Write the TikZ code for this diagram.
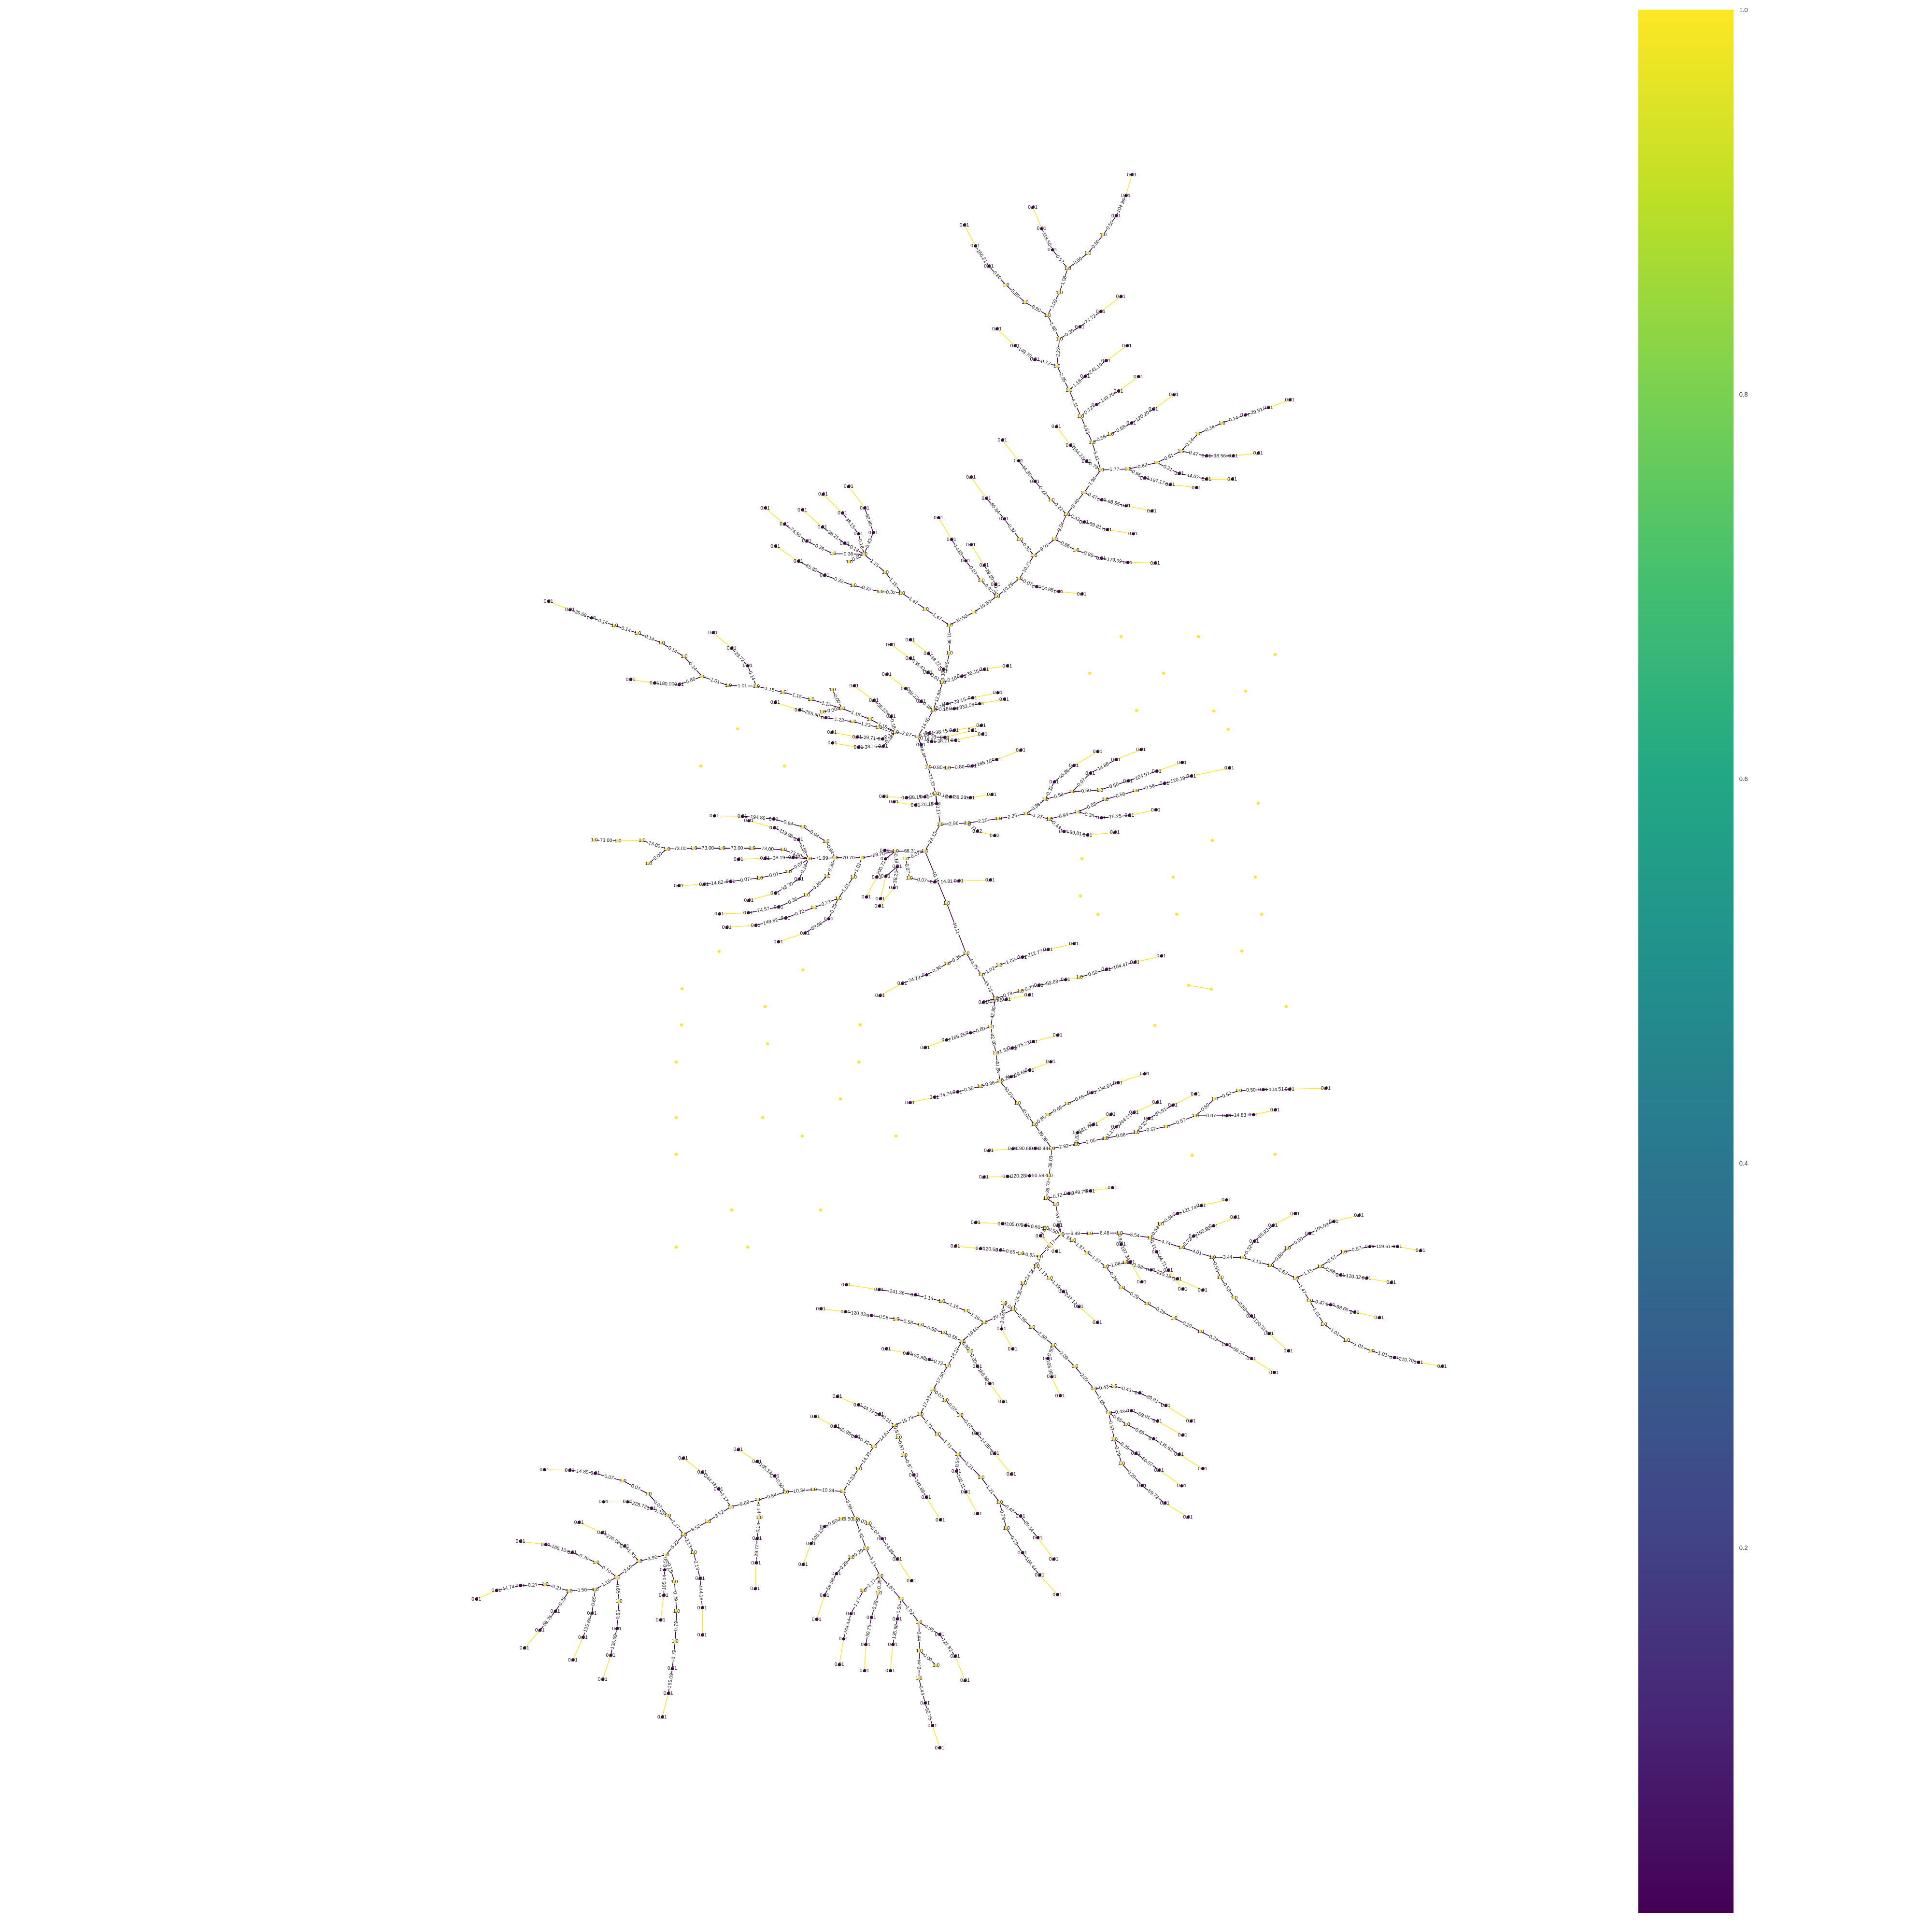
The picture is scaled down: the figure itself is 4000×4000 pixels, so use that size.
\documentclass[tikz,border=0pt]{standalone}
\usepackage{fontspec}
\setmainfont{Liberation Sans}
\definecolor{vlow}{HTML}{440154}
\definecolor{vhigh}{HTML}{FDE725}
\definecolor{vira}{HTML}{482475}
\definecolor{virb}{HTML}{414487}
\definecolor{virc}{HTML}{355F8D}
\definecolor{vird}{HTML}{2A788E}
\definecolor{vire}{HTML}{21918C}
\definecolor{virf}{HTML}{22A884}
\definecolor{virg}{HTML}{44BF70}
\definecolor{virh}{HTML}{7AD151}
\definecolor{viri}{HTML}{BDDF26}
\pgfdeclareverticalshading{viridisbar}{100bp}{color(0bp)=(vlow); color(25bp)=(vlow);
  color(30bp)=(vira); color(35bp)=(virb); color(40bp)=(virc); color(45bp)=(vird);
  color(50bp)=(vire); color(55bp)=(virf); color(60bp)=(virg); color(65bp)=(virh);
  color(70bp)=(viri); color(75bp)=(vhigh); color(100bp)=(vhigh)}
\pgfdeclarelayer{edges}
\pgfsetlayers{edges,main}
\tikzset{
  nlab/.style={font=\fontsize{2.9}{3}\selectfont, text=black!90, inner sep=0pt},
  lownode/.style={circle, fill=vlow, inner sep=0pt, minimum size=0.065cm, label={[nlab]center:0.01}},
  midnode/.style={circle, fill=vlow, inner sep=0pt, minimum size=0.065cm, label={[nlab]center:0.02}},
  highnode/.style={circle, fill=vhigh, inner sep=0pt, minimum size=0.065cm, label={[nlab]center:1.0}},
  freenode/.style={circle, fill=vhigh, inner sep=0pt, minimum size=0.065cm},
  wedge/.style={draw=vlow, line width=0.4pt},
  leafedge/.style={draw=vhigh, line width=0.4pt},
  wlab/.style={nlab, sloped, fill=white, inner sep=0.25pt},
  ticklab/.style={font=\fontsize{3.7}{4}\selectfont, text=black!80, inner sep=0pt, anchor=west}
}
\begin{document}
\begin{tikzpicture}[x=0.01cm, y=-0.01cm]
\useasboundingbox (0,0) rectangle (4000,4000);

% top of the tree
\begin{scope}[shift={(1950,330)}, xscale=0.3333, yscale=0.3333]
  \foreach \n/\x/\y in {a1/1180/95, a2/1143/225, a3/1083/350, a7/687/562, a8/620/430, a9/565/298,
    a14/292/663, a15/208/538, a16/140/408, a18/857/1040, a19/987/945, a20/1112/852, a22/578/1243,
    a23/455/1158, a24/342/1053, a26/890/1348, a27/1020/1250, a28/1150/1158}
    \node[lownode] (\n) at (\x,\y) {};
  \foreach \n/\x/\y in {a4/1003/468, a5/907/583, a6/782/678, a10/730/828, a11/657/968, a12/517/888,
    a13/398/780, a17/730/1115, a21/715/1283, a25/790/1433}
    \node[highnode] (\n) at (\x,\y) {};
\end{scope}

% upper right branches
\begin{scope}[shift={(2050,750)}, xscale=0.4464, yscale=0.3507]
  \foreach \n/\x/\y in {b2/493/250, b3/595/170, b4/688/85, b7/655/360, b8/757/277, b9/852/192,
    b11/447/585, b12/373/490, b13/307/380, b19/1183/312, b20/1290/268, b21/1390/222, b22/1003/553,
    b23/1127/553, b24/1243/537, b25/877/657, b26/1003/690, b27/1123/690, b28/717/683, b29/835/722,
    b30/957/740, b32/517/812, b33/630/848, b34/750/878, b36/435/943, b37/543/988, b38/663/1013,
    b40/208/703, b41/132/582, b42/57/460, b45/515/1157, b46/638/1182, b47/765/1185, b50/65/925,
    b52/215/1325, b53/318/1353, b54/425/1368}
    \node[lownode] (\n) at (\x,\y) {};
  \foreach \n/\x/\y in {b1/420/318, b5/473/473, b6/558/425, b10/513/636, b14/640/630, b15/773/593,
    b16/885/525, b17/965/422, b18/1075/358, b31/435/770, b35/355/897, b39/283/813, b43/300/1045,
    b44/398/1110, b48/203/1140, b49/137/1045, b51/135/1278, b55/30/1383}
    \node[highnode] (\n) at (\x,\y) {};
\end{scope}

% upper left cluster and trunk
\begin{scope}[shift={(1500,900)}, xscale=0.6378, yscale=0.5102]
  \foreach \n/\x/\y in {c3/880/607, c5/783/512, c6/737/425, c7/695/337, c8/843/530, c9/800/447,
    c10/850/258, c11/800/172, c16/325/570, c17/240/513, c18/165/452, c21/483/397, c22/455/297,
    c23/403/210, c24/435/402, c25/383/318, c26/320/242, c29/267/432, c30/195/363, c31/132/297,
    c32/390/440, c33/318/375, c34/253/305, c38/603/832, c39/662/888, c40/710/952, c41/660/965,
    c42/603/907, c43/540/852, c44/770/980, c45/843/952, c46/918/938, c47/527/972, c48/588/1030,
    c49/638/1082, c50/723/1092, c51/805/1068, c52/887/1047, c53/745/1112, c54/828/1092,
    c55/908/1073, c58/665/1212, c59/745/1200, c60/833/1180, c61/715/1228, c62/805/1200,
    c63/672/1245, c64/750/1240, c65/838/1215, c66/638/1258, c70/517/1468, c71/590/1473,
    c72/650/1470, c73/733/1470, c74/797/1473, c75/868/1460, c76/550/1490, c77/620/1503,
    c78/688/1497, c80/1352/1278, c81/1310/1405, c82/1403/1365, c83/1485/1330, c85/1428/1415,
    c86/1515/1385, c87/1400/1522}
    \node[lownode] (\n) at (\x,\y) {};
  \foreach \n/\x/\y in {c1/730/773, c2/810/720, c4/833/592, c12/652/707, c13/575/642, c14/505/637,
    c15/418/612, c19/522/558, c20/453/485, c27/405/515, c28/352/483, c35/730/886, c36/708/1005,
    c37/678/1117, c56/628/1225, c57/555/1207, c84/1335/1445}
    \node[highnode] (\n) at (\x,\y) {};
\end{scope}

% far left branch
\begin{scope}[shift={(1100,1200)}, xscale=0.5102, yscale=0.3333]
  \foreach \n/\x/\y in {d3/1195/858, d4/1088/810, d5/990/763, d15/878/535, d16/813/427, d17/738/330,
    d22/245/238, d23/157/187, d24/70/135, d25/600/652, d26/500/643, d27/403/620, d28/1460/850,
    d29/1390/750, d30/1310/660, d31/1425/990, d32/1322/978, d33/1220/948, d34/1428/1035,
    d35/1328/1042, d36/1222/1015}
    \node[lownode] (\n) at (\x,\y) {};
  \foreach \n/\x/\y in {d1/1410/918, d2/1305/883, d6/1375/868, d7/1260/800, d8/1222/685,
    d9/1182/822, d10/1135/745, d11/1022/700, d12/913/662, d13/800/658, d14/693/602, d18/620/478,
    d19/528/393, d20/432/333, d21/338/285}
    \node[highnode] (\n) at (\x,\y) {};
\end{scope}

% trunk middle and right branches
\begin{scope}[shift={(1850,1250)}, xscale=0.3333, yscale=0.3333]
  \foreach \n/\x/\y in {e3/487/1008, e4/640/968, e5/790/910, e14/998/1107, e15/1120/1005,
    e16/1268/918, e18/1222/1052, e19/1382/968, e32/1290/1330, e33/1465/1315, e35/1058/1415,
    e36/1205/1437, e37/1375/1420}
    \node[lownode] (\n) at (\x,\y) {};
  \foreach \n/\x/\y in {e9/520/1413, e10/628/1440}
    \node[midnode] (\n) at (\x,\y) {};
  \foreach \n/\x/\y in {e1/215/1015, e2/335/1020, e6/262/1180, e7/290/1370, e8/458/1362,
    e11/652/1335, e12/825/1305, e13/942/1215, e17/1110/1167, e21/1282/1157, e25/968/1337,
    e26/1145/1293, e27/1315/1215}
    \node[highnode] (\n) at (\x,\y) {};
\end{scope}

% left fan
\begin{scope}[shift={(1200,1650)}, xscale=0.4464, yscale=0.3333]
  \foreach \n/\x/\y in {f5/1015/265, f6/903/192, f7/785/148, f8/990/375, f9/860/382, f10/737/387,
    f22/700/525, f23/577/542, f24/460/552, f25/1018/510, f26/908/598, f27/785/642, f30/923/683,
    f31/782/720, f32/648/727, f36/955/752, f37/817/797, f38/683/810, f39/1155/757, f40/1045/845,
    f41/922/900, f44/900/137, f45/755/120, f46/625/118, f47/1415/332, f48/1418/385, f49/1378/497,
    f50/1330/622, f51/1473/433, f52/1458/565, f53/1390/677, f56/1420/493, f57/1395/632}
    \node[lownode] (\n) at (\x,\y) {};
  \foreach \n/\x/\y in {f1/1063/385, f2/1185/378, f3/1310/378, f4/1465/337, f11/945/328,
    f12/800/318, f13/660/318, f14/530/318, f15/405/323, f16/290/270, f17/178/273, f18/68/268,
    f19/320/413, f20/968/465, f21/835/503, f28/1148/493, f29/1053/608, f33/1270/498,
    f34/1200/630, f35/1087/687, f42/1143/277, f43/1037/187, f54/1513/385, f55/1530/505}
    \node[highnode] (\n) at (\x,\y) {};
\end{scope}

% trunk below the fan
\foreach \n/\x/\y in {J/1915/1762, K/1960/1870}
  \node[highnode] (\n) at (\x,\y) {};
\foreach \n/\x/\y in {k1/1935/1826, k2/1985/1824, k3/2050/1822, g4/1868/2036, g5/1822/2061,
  g38/1884/2283, g63/2615/2256, g64/2670/2255, g65/2745/2253, g66/2540/2310, g67/2595/2308,
  g68/2640/2298, e38/2545/1590, h13/2020/2531, h83/2030/2585, h84/1978/2580, j5/1895/2681,
  j6/1820/2670, j7/1752/2660}
  \node[lownode] (\n) at (\x,\y) {};
\foreach \n/\x/\y in {g61/2515/2275, g62/2565/2258, j4/1950/2694}
  \node[highnode] (\n) at (\x,\y) {};

\begin{scope}[shift={(1900,1950)}, xscale=0.3827, yscale=0.3333]
  \foreach \n/\x/\y in {g3/48/205, g8/565/95, g9/705/48, g10/845/12, g13/655/270, g19/800/235,
    g16/1020/172, g17/1175/127, g18/1318/88, g20/355/375, g21/478/358, g22/603/330, g24/285/565,
    g25/155/610, g26/40/657, g28/510/660, g29/625/620, g30/757/580, g32/505/838, g33/605/797,
    g34/720/745, g36/215/932, g37/90/965, g43/942/937, g44/1083/875, g45/1228/820, g48/865/1185,
    g49/950/1135, g50/1045/1072, g52/1073/1150, g53/1170/1060, g54/1295/997, g56/1250/1097,
    g57/1380/1015, g58/1503/945, g71/635/1283, g72/515/1285, g73/385/1297, g74/605/1453,
    g75/485/1457, g76/358/1462}
    \node[lownode] (\n) at (\x,\y) {};
  \foreach \n/\x/\y in {g1/262/72, g2/160/135, g6/345/205, g7/440/145, g11/420/352, g12/555/305,
    g15/875/220, g23/395/528, g27/423/690, g31/445/865, g35/338/898, g39/540/1003, g40/632/1135,
    g41/705/1073, g42/810/1005, g46/725/1283, g47/858/1257, g51/1015/1220, g55/1183/1183,
    g59/1345/1148, g60/1503/1080, g70/712/1453}
    \node[highnode] (\n) at (\x,\y) {};
\end{scope}

% lower right
\begin{scope}[shift={(2050,2450)}, xscale=0.6378, yscale=0.4464]
  \foreach \n/\x/\y in {h3/255/47, h4/325/35, h5/397/20, h7/220/195, h8/163/243, h9/215/315,
    h10/40/187, h11/115/195, h26/1312/808, h27/1390/830, h28/1467/848, h29/1105/563, h30/1183/597,
    h31/1263/623, h34/1232/293, h35/1322/293, h36/1397/312, h37/1137/425, h38/1222/440,
    h39/1302/460, h41/1037/232, h42/1115/177, h43/1197/148, h44/857/268, h45/918/195, h46/990/140,
    h49/847/615, h50/905/697, h51/968/777, h52/660/245, h53/725/197, h54/795/157, h56/608/140,
    h57/685/103, h58/767/77, h59/540/318, h60/578/403, h61/425/283, h62/455/365, h63/522/402,
    h64/607/443, h65/690/495, h66/625/490, h67/492/457, h75/768/748, h76/848/813, h77/922/877,
    h81/33/310, h88/237/502, h89/288/572, h90/348/645, h97/485/972, h98/570/1030, h99/652/1103,
    h101/458/1055, h102/543/1103, h103/625/1168, h105/530/1185, h106/613/1257, h107/690/1323,
    h109/473/1252, h110/548/1330, h111/622/1403, h113/493/1402, h114/567/1483, h115/642/1548,
    h116/187/812, h117/200/897, h118/227/985, h119/37/675, h120/73/768}
    \node[lownode] (\n) at (\x,\y) {};
  \foreach \n/\x/\y in {h1/183/70, h2/213/97, h6/230/235, h12/180/208, h14/323/232, h15/420/230,
    h16/520/252, h17/622/298, h18/722/342, h19/820/345, h20/910/380, h21/992/440, h22/1037/545,
    h23/1083/653, h24/1157/728, h25/1237/777, h32/1072/385, h33/1147/318, h40/965/300,
    h47/747/437, h48/792/530, h55/553/187, h68/315/322, h69/375/385, h70/440/367, h71/427/483,
    h72/510/558, h73/597/625, h74/683/687, h78/268/265, h79/160/340, h80/150/383, h82/100/325,
    h85/108/463, h86/75/585, h87/193/440, h91/45/555, h92/135/668, h93/205/750, h94/275/850,
    h95/337/953, h96/402/940, h100/385/1065, h104/443/1117, h108/403/1187, h112/427/1300}
    \node[highnode] (\n) at (\x,\y) {};
\end{scope}

% lower middle
\begin{scope}[shift={(1600,2700)}, xscale=0.5102, yscale=0.6378]
  \foreach \n/\x/\y in {j11/400/37, j12/295/25, j13/195/15, j15/830/202, j16/880/258, j17/935/317,
    j19/635/180, j20/548/160, j21/460/145, j25/828/420, j26/900/485, j27/968/552, j33/1005/688,
    j34/1075/758, j35/1140/828, j37/1013/807, j38/1083/880, j39/1155/943, j40/745/542,
    j41/783/610, j42/830/680, j44/432/358, j45/347/327, j46/262/300, j49/572/555, j50/623/627,
    j51/680/700, j53/337/430, j54/253/397, j55/172/365, j62/210/722, j63/155/777, j64/123/845,
    j66/443/762, j67/505/828, j68/563/898, j71/258/875, j72/210/945, j73/178/1023, j76/317/1005,
    j77/287/1087, j78/270/1170, j80/400/1017, j81/377/1105, j82/372/1190, j84/505/1022,
    j85/487/1105, j86/477/1190, j88/677/1072, j89/740/1143, j90/780/1222, j94/618/1295,
    j95/648/1368, j96/677/1440}
    \node[lownode] (\n) at (\x,\y) {};
  \foreach \n/\x/\y in {j1/858/60, j2/785/22, j3/768/120, j8/693/93, j9/600/68, j10/500/48,
    j14/800/152, j18/710/200, j22/650/278, j23/700/312, j24/760/360, j28/598/358, j29/668/422,
    j30/752/488, j31/845/562, j32/920/643, j36/948/728, j43/495/393, j47/510/432, j48/533/490,
    j52/410/462, j56/348/535, j57/285/608, j58/165/602, j59/52/610, j60/335/697, j61/278/697,
    j65/388/712, j69/378/793, j70/318/822, j74/435/882, j75/367/930, j79/430/937, j83/520/957,
    j87/593/1033, j91/595/1125, j92/663/1172, j93/593/1215}
    \node[highnode] (\n) at (\x,\y) {};
\end{scope}

% lower left
\begin{scope}[shift={(950,2950)}, xscale=0.6378, yscale=0.4464]
  \foreach \n/\x/\y in {i11/200/745, i12/122/768, i13/57/808, i14/313/865, i15/263/953, i16/213/1035,
    i17/432/873, i18/403/985, i19/370/1090, i21/513/945, i22/493/1068, i23/467/1180, i25/368/592,
    i26/282/555, i27/200/540, i28/538/562, i29/465/500, i30/390/452, i34/693/1130, i35/680/1245,
    i36/660/1355, i37/668/673, i38/665/790, i39/655/905, i41/783/712, i42/790/848, i43/790/975,
    i45/625/387, i46/548/357, i47/470/357, i50/443/225, i51/360/210, i52/278/208, i53/843/297,
    i54/790/220, i55/728/155, i57/968/527, i58/965/640, i59/962/760, i60/1025/237, i61/968/170,
    i62/907/115}
    \node[lownode] (\n) at (\x,\y) {};
  \foreach \n/\x/\y in {i1/972/348, i2/883/380, i3/808/448, i4/730/508, i5/672/603, i6/585/632,
    i7/513/705, i8/443/763, i9/358/770, i10/280/740, i20/520/818, i24/445/638, i31/700/727,
    i32/707/865, i33/702/1003, i40/762/592, i44/678/420, i48/615/320, i49/533/260, i56/975/430}
    \node[highnode] (\n) at (\x,\y) {};
\end{scope}

% loose nodes
\foreach \x/\y [count=\i] in {2321/1318, 2481/1318, 2640/1355, 2256/1394, 2409/1394, 2579/1431,
  2353/1471, 2513/1472, 2543/1510, 2605/1663, 2240/1778, 2510/1740, 2429/1816, 2599/1816,
  2237/1855, 2273/1893, 2436/1893, 2612/1893, 2571/1969, 2663/2084, 2391/2123, 2640/2390,
  2468/2392, 1527/1509, 1451/1586, 1624/1586, 1489/1970, 1662/2008, 1412/2047, 1584/2084,
  1411/2122, 1589/2161, 1781/2122, 1400/2199, 1778/2199, 1740/2275, 1579/2314, 1400/2314,
  1661/2352, 1855/2352, 1400/2390, 1515/2505, 1699/2505, 1400/2582, 1548/2582}
  \node[freenode] (loose\i) at (\x,\y) {};
\node[freenode] (pairA) at (2461,2040) {};
\node[freenode] (pairB) at (2508,2048) {};

\begin{pgfonlayer}{edges}
  \foreach \p/\q/\w in {a2/a3/104.99, a3/a4/0.50, a4/a5/0.50, a5/a6/0.50, a6/a7/0.57, a7/a8/119.50,
    a6/a10/1.08, a10/a11/1.08, a11/a12/0.80, a12/a13/0.80, a13/a14/0.80, a14/a15/166.21,
    a11/a17/1.88, a17/a18/0.36, a18/a19/74.72, a17/a21/2.23, a21/a22/0.72, a22/a23/149.70,
    a21/a25/2.95, a25/a26/1.16, a26/a27/241.10, a25/b1/4.11, b1/b2/0.72, b2/b3/149.70, b1/b5/4.83,
    b5/b6/0.58, b6/b7/0.58, b7/b8/120.20, b5/b10/5.41, b10/b11/0.79, b11/b12/164.23, b10/b14/1.77,
    b14/b15/0.82, b15/b16/0.61, b16/b17/0.14, b17/b18/0.14, b18/b19/0.14, b19/b20/29.81,
    b16/b22/0.47, b22/b23/98.56, b15/b25/0.21, b25/b26/44.67, b14/b28/0.95, b28/b29/197.17,
    b10/b31/7.94, b31/b32/0.47, b32/b33/98.55, b31/b35/8.40, b35/b36/0.43, b36/b37/89.81,
    b35/b39/0.22, b39/b40/0.22, b40/b41/44.85, b35/b43/9.04, b43/b44/0.86, b44/b45/0.86,
    b45/b46/179.99, b43/b48/9.91, b48/b49/0.32, b49/b50/0.32, b50/c10/65.84, b48/b51/10.21,
    b51/b52/0.07, b52/b53/14.85, b51/b55/10.29, b55/c2/10.50, c2/c1/10.50, b55/c3/0.14,
    c3/c8/29.80, b55/c4/0.07, c4/c5/0.07, c5/c6/14.83,
    c1/c12/1.47, c12/c13/1.47, c13/c14/0.32, c14/c15/0.32, c15/c16/0.32, c16/c17/65.83,
    c13/c19/1.15, c19/c20/1.15, c20/c21/0.43, c21/c22/69.80, c20/c24/0.18, c24/c25/38.15,
    c20/c27/0.00, c20/c28/0.36, c28/c29/0.36, c29/c30/74.56, c20/c32/0.18, c32/c33/38.21,
    c1/c35/11.96, c35/c36/11.96, c36/c40/0.18, c40/c39/38.22, c36/c41/0.61, c41/c42/135.41,
    c36/c44/0.18, c44/c45/38.15, c36/c37/12.96, c37/c49/0.18, c49/c48/38.22, c37/c50/0.18,
    c50/c51/38.15, c37/c53/0.18, c53/c54/333.56, c37/c56/14.93, c56/c57/2.87, c56/c58/0.18,
    c58/c59/38.15, c56/c61/0.18, c56/c63/0.18, c63/c64/38.21, c56/e1/48.44, c71/c72/38.15,
    c72/e6/0.18, e6/c73/0.18, c73/c74/38.21, c77/c78/120.18,
    c57/d1/1.23, d1/d2/1.23, d2/d3/1.23, d3/d4/255.90, c57/d6/1.15, d6/d7/1.15, d7/d10/1.15,
    d10/d11/1.15, d11/d12/1.15, d12/d13/1.01, d13/d14/1.01, d7/d8/0.00, d7/d9/0.00, d12/d15/0.14,
    d15/d16/29.72, d14/d18/0.14, d18/d19/0.14, d19/d20/0.14, d20/d21/0.14, d21/d22/0.14,
    d22/d23/29.68, d14/d25/0.86, d25/d26/180.00, c57/d28/0.18, d28/d29/38.23, c57/d31/0.14,
    d31/d32/29.71, c57/d34/0.18, d34/d35/38.15,
    e1/e2/0.80, e2/e3/0.80, e3/e4/166.18, e1/e6/19.23, e6/e7/50.17, e7/e8/2.96, e8/e9/0.71,
    e8/e11/2.25, e11/e12/2.25, e12/e13/0.88, e13/e14/0.32, e14/e15/65.86, e13/e17/0.58,
    e17/e18/0.07, e18/e19/14.86, e17/e21/0.50, e21/c81/0.50, c81/c82/104.97, e12/e25/1.37,
    e25/e26/0.94, e26/e27/0.58, e27/c84/0.58, c84/c85/0.58, c85/c86/120.19, e26/e32/0.36,
    e32/e33/75.25, e25/e35/0.43, e35/e36/89.81,
    e7/J/23.13, f1/f2/71.99, f2/f3/70.70, f3/f4/69.70, f4/J/68.31, f1/f11/73.00, f11/f12/73.00,
    f12/f13/73.00, f13/f14/73.00, f14/f15/73.00, f15/f16/73.00, f17/f18/73.00, f15/f19/0.00,
    f1/f5/0.58, f5/f6/119.98, f8/f9/38.19, f1/f20/0.07, f20/f21/0.07, f21/f22/0.07, f22/f23/14.82,
    f1/f25/0.18, f25/f26/38.20, f2/f28/0.36, f28/f29/0.36, f29/f30/0.36, f30/f31/74.57,
    f3/f33/1.01, f33/f34/1.01, f34/f35/0.72, f35/f36/0.72, f36/f37/149.62, f34/f39/0.29,
    f39/f40/59.98, f2/f42/0.94, f42/f43/0.94, f43/f44/0.94, f44/f45/194.86, f48/f49/200.71,
    f4/f51/0.18, f51/f52/38.20, J/f54/0.07, f54/f55/0.07, f55/k1/0.07, k1/k2/14.81, J/K/40.11,
    K/g1/40.11,
    g1/g2/0.36, g2/g3/0.36, g3/g4/74.73, g1/g6/44.75, g6/g7/1.02, g7/g8/1.02, g8/g9/212.77,
    g6/g11/43.73, g11/g12/0.79, g12/g13/0.29, g13/g19/59.68, g15/g16/0.50, g16/g17/104.47,
    g20/g21/129.81, g11/g23/42.80, g23/g24/0.80, g24/g25/166.25, g23/g27/42.00, g27/g28/1.32,
    g28/g29/275.73, g27/g31/40.68, g31/g32/0.29, g32/g33/59.68, g31/g35/0.36, g35/g36/0.36,
    g36/g37/74.74, g31/g39/40.03, g39/g40/40.03, g40/g41/0.65, g41/g42/0.65, g42/g43/0.65,
    g43/g44/134.64, g40/g46/39.39, g46/g47/2.92, g47/g48/0.87, g48/g49/181.78, g47/g51/2.05,
    g51/g52/1.17, g52/g53/244.22, g51/g55/0.88, g55/g56/0.32, g56/g57/65.91, g55/g59/0.57,
    g59/g60/0.57, g60/g61/0.50, g61/g62/0.50, g62/g63/0.50, g63/g64/104.51, g60/g66/0.07,
    g66/g67/14.83, g46/g71/0.44, g71/g72/190.66, g46/g70/36.03, g70/g74/0.58, g74/g75/120.28,
    g70/h1/35.72, h1/h3/0.72, h3/h4/149.79, h2/h6/34.71, h6/h12/0.50, h12/h11/0.50,
    h11/h10/105.07, h12/h8/44.89, h6/h14/6.48, h14/h15/6.48, h15/h16/5.54, h16/h17/4.74,
    h17/h18/4.01, h18/h19/3.44, h19/h20/3.13, h20/h21/2.62, h21/h22/1.47, h22/h23/1.01,
    h23/h24/1.01, h24/h25/1.01, h25/h26/1.01, h26/h27/210.70, h22/h29/0.47, h29/h30/98.65,
    h21/h32/1.15, h32/h33/0.57, h33/h34/0.57, h34/h35/119.61, h32/h37/0.58, h37/h38/120.32,
    h20/h40/0.50, h40/h41/0.50, h41/h42/105.09, h19/h44/0.32, h44/h45/65.93, h18/h47/0.58,
    h47/h48/0.58, h48/h49/0.58, h49/h50/120.31, h17/h52/0.72, h52/h53/150.95, h16/h55/0.58,
    h55/h56/0.58, h56/h57/121.74, h16/h59/0.21, h59/h60/44.71, h15/h61/0.98, h61/h62/197.34,
    h6/h78/1.37, h78/h68/1.37, h68/h69/1.37, h69/h70/1.08, h70/h63/1.08, h63/h64/225.18,
    h69/h71/0.29, h71/h72/0.29, h72/h73/0.29, h73/h74/0.29, h74/h75/0.29, h75/h76/59.54,
    h6/h79/26.17, h79/h82/0.65, h82/h81/0.65, h81/h83/120.53, h79/h80/25.15, h80/h85/24.36,
    h85/h86/24.36, h80/h87/1.19, h87/h88/1.19, h88/h89/247.12, h86/h91/1.01, h91/h119/210.70,
    h86/h92/2.59, h92/h93/2.59, h93/h94/2.09, h94/h95/2.09, h95/h96/0.43, h96/h97/0.43,
    h97/h98/89.91, h95/h100/1.66, h100/h101/0.43, h101/h102/89.91, h100/h104/0.65,
    h104/h105/0.65, h105/h106/135.62, h100/h108/0.57, h108/h109/0.29, h109/h110/60.07,
    h108/h112/0.29, h112/h113/0.29, h113/h114/59.72, h93/h116/0.50, h116/h117/105.09,
    h86/j1/20.76,
    j1/j2/1.16, j2/j4/1.16, j4/j5/1.16, j5/j6/241.36, j1/j3/19.60, j3/j8/0.58, j8/j9/0.58,
    j9/j10/0.58, j10/j11/0.58, j11/j12/120.33, j3/j14/0.80, j14/j15/0.80, j15/j16/166.39,
    j3/j18/18.22, j18/j19/0.72, j19/j20/150.98, j18/j22/17.50, j22/j23/0.07, j23/j24/0.07,
    j24/j25/0.07, j25/j26/14.85, j22/j28/17.43, j28/j29/1.71, j29/j30/1.71, j30/j31/1.21,
    j31/j32/1.21, j32/j33/0.43, j33/j34/89.54, j32/j36/0.79, j36/j37/0.79, j37/j38/164.44,
    j30/j40/0.50, j40/j41/105.11, j28/j43/15.73, j43/j44/0.21, j44/j45/44.72, j43/j47/0.87,
    j47/j48/0.87, j48/j49/0.87, j49/j50/181.89, j43/j52/14.64, j52/j53/0.32, j53/j54/65.95,
    j52/j56/14.33, j56/j57/14.33, j57/j58/10.34, j58/j59/10.34, j57/j60/3.99, j60/j61/0.50,
    j61/j62/0.50, j62/j63/105.13, j60/j65/0.07, j65/j66/0.07, j66/j67/14.86, j60/j69/3.42,
    j69/j70/0.29, j70/j71/0.29, j71/j72/59.58, j69/j74/3.13, j74/j75/1.17, j75/j76/1.17,
    j76/j77/244.44, j74/j79/0.29, j79/j80/0.29, j80/j81/59.75, j74/j83/1.67, j83/j84/0.65,
    j84/j85/135.68, j83/j87/1.02, j87/j88/0.58, j88/j89/121.82, j87/j91/0.44, j91/j92/0.00,
    j91/j93/0.44, j93/j94/0.44, j94/j95/80.75,
    j59/i1/9.84, i1/i2/9.69, i2/i3/8.52, i3/i4/8.52, i4/i5/5.22, i5/i6/3.92, i6/i7/2.60,
    i7/i8/1.15, i8/i9/0.50, i9/i10/0.21, i10/i11/0.21, i11/i12/44.74, i9/i14/0.29,
    i14/i15/59.76, i8/i17/0.65, i17/i18/135.69, i7/i20/0.65, i20/i21/0.65, i21/i22/135.69,
    i7/i24/0.79, i24/i25/0.79, i25/i26/165.10, i6/i28/1.33, i28/i29/276.08, i5/i31/0.79,
    i31/i32/0.79, i32/i33/0.79, i33/i34/0.79, i34/i35/165.09, i5/i37/0.50, i37/i38/105.14,
    i4/i40/2.13, i40/i41/2.13, i41/i42/444.18, i4/i44/1.17, i44/i45/1.10, i45/i46/228.72,
    i44/i48/0.07, i48/i49/0.07, i49/i50/0.07, i50/i51/14.85, i2/i53/1.17, i53/i54/244.43,
    i1/i56/0.14, i56/i57/0.14, i57/i58/29.72, j59/i60/0.50, i60/i61/105.13}
    \draw[wedge] (\p) -- node[wlab] {\w} (\q);
  \foreach \p/\q in {c56/c66, c78/e6, f1/f8, f4/f47, f4/f48, f51/f56, g11/g20, h1/h2, h6/h7}
    \draw[wedge] (\p) -- (\q);
  \foreach \p/\q in {a1/a2, a8/a9, a15/a16, a19/a20, a23/a24, a27/a28, b3/b4, b8/b9, b12/b13,
    b20/b21, b23/b24, b26/b27, b29/b30, b33/b34, b37/b38, b41/b42, b46/b47, c10/c11, b53/b54,
    c8/c9, c6/c7, c17/c18, c22/c23, c25/c26, c30/c31, c33/c34, c39/c38, c42/c43, c45/c46,
    c48/c47, c51/c52, c54/c55, c59/c60, c61/c62, c64/c65, c70/c71, c74/c75, c76/c77,
    d4/d5, d16/d17, d23/d24, d26/d27, d29/d30, d32/d33, d35/d36,
    e4/e5, e9/e10, e15/e16, e19/c80, c82/c83, c86/e38, e33/c87, e36/e37,
    f16/f17, f6/f7, f9/f10, f23/f24, f26/f27, f31/f32, f37/f38, f40/f41, f45/f46, f49/f50,
    f52/f53, f56/f57, k2/k3,
    g4/g5, g9/g10, g19/g15, g17/g18, g21/g22, g25/g26, g29/g30, g33/g34, g37/g38, g44/g45,
    g49/g50, g53/g54, g57/g58, g64/g65, g67/g68, g72/g73, g75/g76,
    h4/h5, h10/h13, h8/h9, h27/h28, h30/h31, h35/h36, h38/h39, h42/h43, h45/h46, h50/h51,
    h53/h54, h57/h58, h60/h66, h62/h67, h64/h65, h76/h77, h83/h84, h89/h90, h119/h120,
    h98/h99, h102/h103, h106/h107, h110/h111, h114/h115, h117/h118,
    j6/j7, j12/j13, j16/j17, j20/j21, j26/j27, j34/j35, j38/j39, j41/j42, j45/j46, j50/j51,
    j54/j55, j63/j64, j67/j68, j72/j73, j77/j78, j81/j82, j85/j86, j89/j90, j95/j96,
    i12/i13, i15/i16, i18/i19, i22/i23, i26/i27, i29/i30, i35/i36, i38/i39, i42/i43, i46/i47,
    i51/i52, i54/i55, i58/i59, i61/i62, pairA/pairB}
    \draw[leafedge] (\p) -- (\q);
\end{pgfonlayer}

% colour bar
\shade[shading=viridisbar] (3392,21) rectangle (3589,3960);
\node[ticklab] (tick10) at (3600,21) {1.0};
\node[ticklab] (tick08) at (3600,817) {0.8};
\node[ticklab] (tick06) at (3600,1613) {0.6};
\node[ticklab] (tick04) at (3600,2409) {0.4};
\node[ticklab] (tick02) at (3600,3205) {0.2};
\end{tikzpicture}
\end{document}
